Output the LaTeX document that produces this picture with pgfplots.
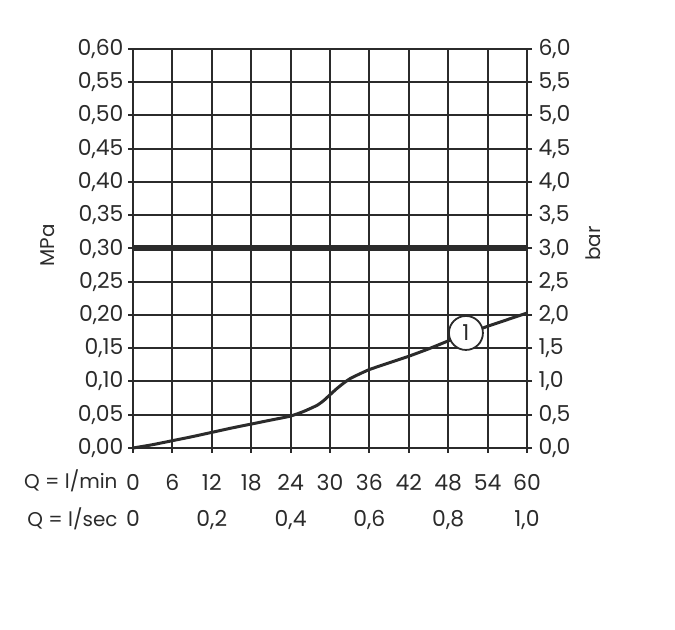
\documentclass[border=0pt]{standalone}
\usepackage{fontspec}
\setmainfont{Poppins}
\usepackage{pgfplots}
\pgfplotsset{compat=1.18}
\usetikzlibrary{calc}
\definecolor{ink}{HTML}{2B2B2B}
\tikzset{sec/.style={anchor=base, yshift=-79bp, text=ink, font=\fontsize{22}{24}\selectfont}}
\begin{document}
\begin{tikzpicture}
\pgfplotsset{
  common/.style={
    scale only axis, width=394bp, height=399bp,
    xmin=0, xmax=60,
    axis line style={ink, line width=2.2bp},
    tick style={ink, line width=2bp},
    tick align=outside, major tick length=5bp,
    font=\fontsize{22}{24}\selectfont,
    tick label style={font=\fontsize{22}{24}\selectfont},
    /pgf/number format/assume math mode=true,
    /pgf/number format/use comma,
    ticklabel style={text=ink},
    clip=false,
  },
}
\begin{axis}[common, name=ax,
  ymin=0, ymax=0.6,
  ytick={0,0.05,0.1,0.15,0.2,0.25,0.3,0.35,0.4,0.45,0.5,0.55,0.6},
  yticklabel style={xshift=-1bp, /pgf/number format/.cd, fixed, fixed zerofill, precision=2},
  xtick={0,6,12,18,24,30,36,42,48,54,60},
  xticklabel style={anchor=base, yshift=-38bp},
  xtick pos=bottom, ytick pos=left,
  grid=major, grid style={ink, line width=2bp},
]
\addplot[ink, line width=6bp] coordinates {(0,0.3) (60,0.3)};
\addplot[ink, line width=3bp, smooth, tension=0.3] coordinates {
(0,0) (3,0.005) (6,0.011) (9,0.017) (12,0.0235) (15,0.030) (18,0.036)
(21,0.042) (24,0.048) (26,0.055) (28,0.064) (29,0.071) (30,0.080)
(31,0.089) (32,0.097) (33,0.104) (34,0.109) (36,0.118) (39,0.128) (42,0.138)
(45,0.149) (48,0.161) (51,0.172) (54,0.183) (57,0.193) (60,0.203)};
\node[circle, draw=ink, line width=1.8bp, fill=white, minimum size=34bp, inner sep=0pt, text=ink, font=\fontsize{22}{24}\selectfont] at (axis cs:50.7,0.173) {1};
\node[sec] at (axis cs:0,0) {0};
\node[sec] at (axis cs:12,0) {0,2};
\node[sec] at (axis cs:24,0) {0,4};
\node[sec] at (axis cs:36,0) {0,6};
\node[sec] at (axis cs:48,0) {0,8};
\node[sec] at (axis cs:60,0) {1,0};
\end{axis}
\begin{axis}[common,
  ymin=0, ymax=6,
  ytick={0,0.5,1,1.5,2,2.5,3,3.5,4,4.5,5,5.5,6},
  yticklabel style={xshift=3bp, /pgf/number format/.cd, fixed, fixed zerofill, precision=1},
  ytick pos=right, xtick=\empty,
]
\end{axis}
\node[anchor=base east, text=ink, font=\fontsize{20}{22}\selectfont] at ($(ax.south west)+(-12bp,-41bp)$) {Q = l/min};
\node[anchor=base east, text=ink, font=\fontsize{20}{22}\selectfont] at ($(ax.south west)+(-12bp,-79bp)$) {Q = l/sec};
\node[rotate=90, text=ink, font=\fontsize{20}{22}\selectfont] at ($(ax.west)+(-85bp,3bp)$) {MPa};
\node[rotate=90, text=ink, font=\fontsize{20}{22}\selectfont] at ($(ax.east)+(66bp,5bp)$) {bar};
\pgfresetboundingbox
\path ($(ax.south west)+(-133bp,-182bp)$) rectangle ($(ax.north east)+(148bp,49bp)$);
\end{tikzpicture}
\end{document}
